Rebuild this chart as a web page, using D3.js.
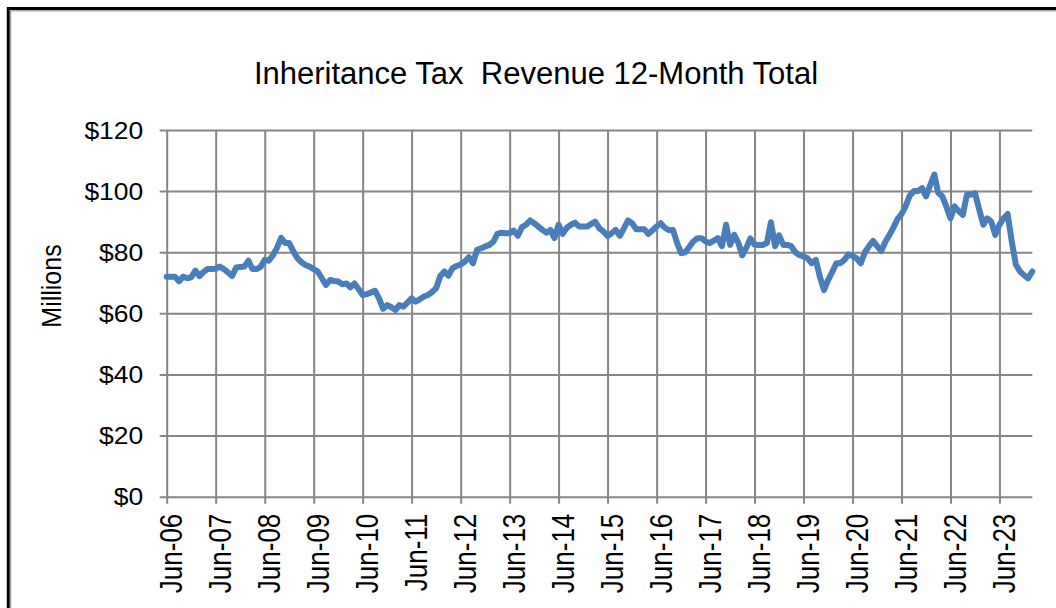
<!DOCTYPE html>
<html>
<head>
<meta charset="utf-8">
<script src="https://cdn.jsdelivr.net/npm/d3@7"></script>
<style>
    body { margin: 0; background: #fff; }
    svg { display: block; font-family: "Liberation Sans", Arial, sans-serif; }
</style>
</head>
<body>
<div id="chart"></div>
<script>
// 12-month total, $ millions, monthly from Jun-06 to Feb-24
var startMonth = new Date(2006, 5, 1);
var revenue = [
    72.0, 72.0, 72.0, 70.5, 72.0, 71.5, 71.8, 74.0, 72.2, 73.5, 74.5, 74.5,
    74.6, 75.3, 74.5, 73.4, 72.2, 75.0, 75.2, 75.3, 77.2, 74.5, 74.5, 75.2,
    77.5, 77.2, 79.0, 81.5, 84.7, 83.0, 83.0, 80.2, 78.0, 76.8, 75.8, 75.3,
    74.5, 73.7, 71.5, 69.3, 70.9, 70.6, 70.4, 69.5, 69.8, 68.5, 69.8, 68.0,
    66.0, 66.3, 66.8, 67.4, 64.9, 61.5, 62.7, 62.0, 61.1, 62.7, 62.2, 63.5,
    64.9, 63.8, 64.6, 65.5, 66.0, 67.0, 68.2, 72.2, 73.7, 72.3, 74.8, 75.5,
    76.0, 76.9, 78.4, 76.4, 80.8, 81.3, 81.9, 82.4, 83.5, 86.0, 86.4, 86.2,
    86.2, 87.1, 85.4, 88.2, 89.0, 90.4, 89.5, 88.4, 87.3, 86.4, 87.3, 84.6,
    89.0, 86.0, 88.0, 89.0, 89.7, 88.4, 88.4, 88.4, 89.3, 90.0, 87.8, 86.8,
    85.3, 86.2, 87.3, 85.4, 87.8, 90.4, 89.5, 87.5, 87.5, 87.5, 86.0, 87.2,
    88.4, 89.5, 88.0, 87.2, 87.3, 83.0, 79.7, 80.0, 81.8, 83.5, 84.6, 84.6,
    83.5, 83.0, 83.8, 84.6, 82.0, 89.0, 82.4, 85.7, 83.0, 79.0, 81.5, 84.5,
    82.5, 82.4, 82.4, 83.0, 89.8, 82.0, 85.5, 82.4, 82.4, 82.0, 80.0, 79.1,
    78.6, 78.0, 76.4, 77.5, 72.0, 67.6, 70.9, 73.5, 76.4, 76.4, 77.5, 79.3,
    78.8, 78.0, 76.4, 80.0, 82.0, 83.7, 82.0, 80.4, 83.5, 85.5, 88.0, 90.8,
    92.5, 95.0, 98.5, 100.0, 100.0, 101.0, 98.3, 102.0, 105.4, 99.5, 98.3, 95.0,
    91.1, 95.0, 93.5, 92.2, 98.8, 98.8, 99.3, 94.0, 89.0, 91.1, 90.0, 85.7,
    89.0, 91.0, 92.5, 83.5, 76.0, 73.7, 72.5, 71.5, 73.7
];
var xTickLabels = ["Jun-06", "Jun-07", "Jun-08", "Jun-09", "Jun-10", "Jun-11",
    "Jun-12", "Jun-13", "Jun-14", "Jun-15", "Jun-16", "Jun-17",
    "Jun-18", "Jun-19", "Jun-20", "Jun-21", "Jun-22", "Jun-23"];
var yTicks = [0, 20, 40, 60, 80, 100, 120];

var width = 1056, height = 608;
var margin = {top: 130, right: 23.7, bottom: 111.3, left: 166.7};
var plotW = width - margin.left - margin.right;
var plotH = height - margin.top - margin.bottom;

var data = revenue.map(function (v, i) {
    return {date: d3.timeMonth.offset(startMonth, i), value: v};
});
var tickDates = xTickLabels.map(function (d, i) {
    return d3.timeMonth.offset(startMonth, 12 * i);
});

var svg = d3.select("#chart").append("svg")
    .attr("width", width)
    .attr("height", height);

// chart frame (runs off the right and bottom edges)
svg.append("rect")
    .attr("x", 8.3).attr("y", 8.5)
    .attr("width", 1200).attr("height", 800)
    .attr("fill", "none").attr("stroke", "#000").attr("stroke-width", 3);
svg.append("rect")
    .attr("x", 10.6).attr("y", 10.8)
    .attr("width", 1200).attr("height", 800)
    .attr("fill", "none").attr("stroke", "#a6a6a6").attr("stroke-width", 1.4);

var x = d3.scaleTime()
    .domain([startMonth, data[data.length - 1].date])
    .range([margin.left, margin.left + plotW]);

var y = d3.scaleLinear()
    .domain([0, 120])
    .range([margin.top + plotH, margin.top]);

// horizontal grid + left ticks
var yAxis = svg.append("g")
    .attr("transform", "translate(" + (margin.left - 7) + ",0)")
    .call(d3.axisLeft(y)
        .tickValues(yTicks)
        .tickSize(-(plotW + 7))
        .tickPadding(0)
        .tickFormat(function (d) { return "$" + d; }));
yAxis.select(".domain").remove();
yAxis.selectAll(".tick line")
    .attr("stroke", "#868686").attr("stroke-width", 2);
yAxis.selectAll(".tick text")
    .attr("x", null).attr("dy", null)
    .attr("transform", "translate(-16.5,8) scale(1.15,1)")
    .attr("text-anchor", "end")
    .attr("fill", "#000")
    .style("font-size", "23px");

// vertical grid + bottom ticks
var xAxis = svg.append("g")
    .attr("transform", "translate(0," + (margin.top + plotH + 7) + ")")
    .call(d3.axisBottom(x)
        .tickValues(tickDates)
        .tickSize(-(plotH + 7))
        .tickFormat(function (d, i) { return xTickLabels[i]; }));
xAxis.select(".domain").remove();
xAxis.selectAll(".tick line")
    .attr("stroke", "#868686").attr("stroke-width", 2);
xAxis.selectAll(".tick text")
    .attr("y", null).attr("dy", null)
    .attr("transform", "translate(15,10) scale(1.19,1) rotate(-90)")
    .attr("text-anchor", "end")
    .attr("fill", "#000")
    .style("font-size", "26px");

var line = d3.line()
    .x(function (d) { return x(d.date); })
    .y(function (d) { return y(d.value); });

svg.append("path")
    .datum(data)
    .attr("d", line)
    .attr("fill", "none")
    .attr("stroke", "#4a7ebb")
    .attr("stroke-width", 6)
    .attr("stroke-linejoin", "round")
    .attr("stroke-linecap", "round");

svg.append("text")
    .attr("x", 536).attr("y", 84)
    .attr("text-anchor", "middle")
    .style("font-size", "31px")
    .style("white-space", "pre")
    .text("Inheritance Tax  Revenue 12-Month Total");

svg.append("text")
    .attr("transform", "translate(61,286) scale(1.1,1) rotate(-90)")
    .attr("text-anchor", "middle")
    .style("font-size", "25px")
    .text("Millions");
</script>
</body>
</html>
